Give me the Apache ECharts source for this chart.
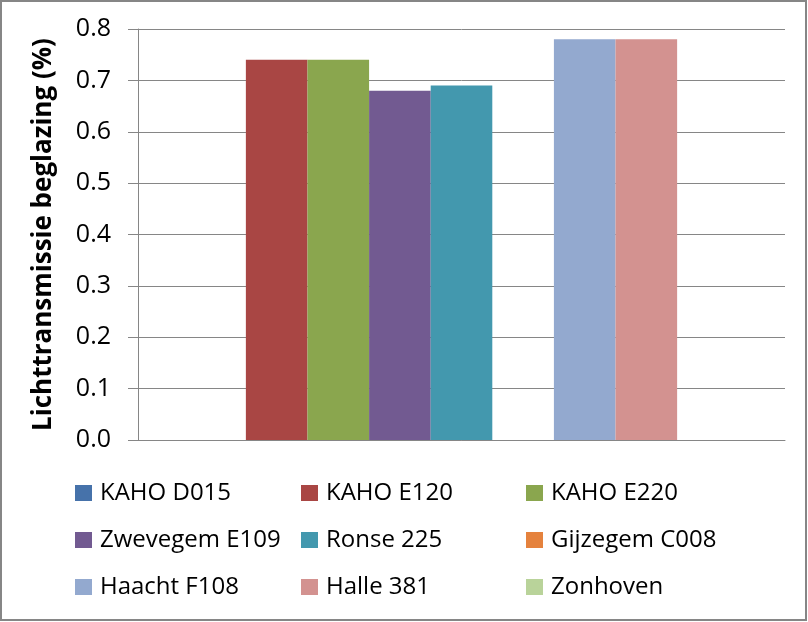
<!DOCTYPE html>
<html><head><meta charset="utf-8">
<script src="https://cdn.jsdelivr.net/npm/echarts@6/dist/echarts.min.js"></script>
<style>html,body{margin:0;padding:0;background:#fff}#c{width:808px;height:622px}</style>
</head><body><div id="c"></div>
<script>
var categories = [''];
var seriesNames = ['KAHO D015','KAHO E120','KAHO E220','Zwevegem E109','Ronse 225','Gijzegem C008','Haacht F108','Halle 381','Zonhoven'];
var seriesValues = [null, 0.74, 0.74, 0.68, 0.69, null, 0.78, 0.78, null];
var seriesColors = ['#4672AA','#A94644','#8AA64E','#725A91','#4398AE','#E5823D','#93A9CF','#D39290','#B9D39A'];
var yTicks = {min: 0, max: 0.8, interval: 0.1};
var legendColumns = [
  ['KAHO D015','Zwevegem E109','Haacht F108'],
  ['KAHO E120','Ronse 225','Halle 381'],
  ['KAHO E220','Gijzegem C008','Zonhoven']
];
var legendLeft = [75, 301, 526];

var font = 'Open Sans, Liberation Sans, sans-serif';
var series = seriesNames.map(function(n, i){
  return {name: n, type: 'bar', data: [seriesValues[i]], itemStyle: {color: seriesColors[i]},
    barGap: '0%', barCategoryGap: '14.3%'};
});
var legends = legendColumns.map(function(col, i){
  return {data: col, orient: 'vertical', left: legendLeft[i], top: 481, padding: 0, itemWidth: 17, itemHeight: 16,
    itemGap: 23, icon: 'rect', textStyle: {fontFamily: font, fontSize: 24, color: '#000', lineHeight: 24, padding: [0,0,0,3]},
    selectedMode: false};
});
var chart = echarts.init(document.getElementById('c'), null, {renderer: 'canvas'});
chart.setOption({
  animation: false,
  grid: {left: 138, right: 23, top: 29, bottom: 182, containLabel: false},
  legend: legends,
  xAxis: {type: 'category', data: categories, axisTick: {show: false}, axisLabel: {show: false},
    axisLine: {lineStyle: {color: '#868686', width: 1}}},
  yAxis: {type: 'value', min: yTicks.min, max: yTicks.max, interval: yTicks.interval,
    name: 'Lichttransmissie beglazing (%)', nameLocation: 'middle', nameGap: 81, nameRotate: 90,
    nameTextStyle: {fontFamily: font, fontSize: 26, fontWeight: 'bold', color: '#000'},
    axisLine: {show: true, lineStyle: {color: '#868686'}},
    axisTick: {show: true, length: 10, lineStyle: {color: '#868686'}},
    axisLabel: {formatter: function(v){return v.toFixed(1);}, fontFamily: font, fontSize: 25, color: '#000', margin: 27},
    splitLine: {lineStyle: {color: '#868686', width: 1}}},
  graphic: [{type: 'rect', shape: {x: 1, y: 1, width: 805, height: 619}, style: {fill: null, stroke: '#868686', lineWidth: 2}, silent: true}],
  series: series
});
</script></body></html>
